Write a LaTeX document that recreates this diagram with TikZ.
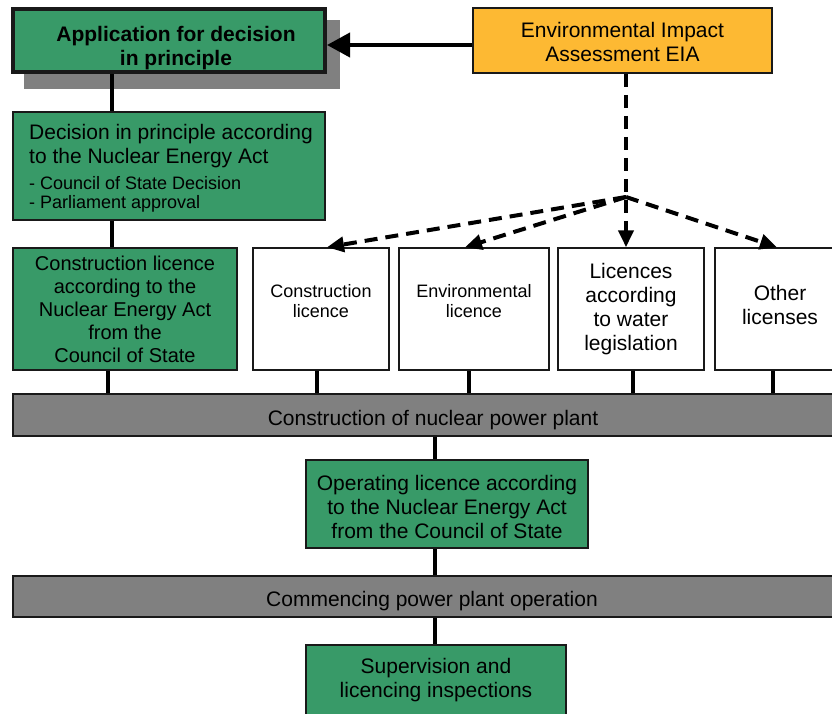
\documentclass[tikz,border=0pt]{standalone}
\usepackage{fontspec}
\setmainfont{Liberation Sans}
\usetikzlibrary{arrows.meta}
\definecolor{boxgreen}{HTML}{389A68}
\definecolor{eiaorange}{HTML}{FDB933}
\definecolor{bargray}{HTML}{808080}
\newcommand{\bigtxt}{\fontsize{21}{24}\selectfont}
\newcommand{\midtxt}{\fontsize{20}{23}\selectfont}
\newcommand{\smalltxt}{\fontsize{18}{20}\selectfont}

\begin{document}
\begin{tikzpicture}[x=1pt,y=-1pt,
	greenbox/.style={draw=black!90,line width=1.5pt,fill=boxgreen,align=center,inner sep=0pt,font=\bigtxt},
	whitebox/.style={draw=black!90,line width=1.5pt,fill=white,align=center,inner sep=0pt,minimum height=122pt},
	barbox/.style={draw=black!90,line width=1.5pt,fill=bargray,inner sep=0pt,font=\bigtxt,text height=25pt},
	conn/.style={line width=4pt},
	dashconn/.style={line width=4pt,dash pattern=on 13pt off 8pt,-{Triangle[length=17pt,width=15pt]}}]
		\clip (0,0) rectangle (832,713);
		
		% Shadow
		\fill[bargray] (24,20) rectangle (340,89);
		
		% Top boxes
		\node[greenbox,line width=4pt,minimum width=312pt,minimum height=63pt,font=\bigtxt\bfseries] (app) at (169,40.5) {\rule{0pt}{31pt}\hspace*{14pt}Application for decision\\\hspace*{14pt}in principle};
		\node[draw=black!90,line width=1.5pt,fill=eiaorange,minimum width=299pt,minimum height=65pt,align=center,inner sep=0pt,font=\bigtxt] (eia) at (622.5,40.5) {\rule{0pt}{19pt}Environmental Impact\\Assessment EIA};
		\node[greenbox,minimum width=312pt,minimum height=108pt,align=left] (dec) at (169,166) {\rule{0pt}{19.5pt}\hspace*{4pt}Decision in principle according\\\hspace*{4pt}to the Nuclear Energy Act\\[2pt]{\smalltxt\hspace*{4pt}- Council of State Decision}\\[-5pt]{\smalltxt\hspace*{4pt}- Parliament approval}};
		
		% Licence row
		\node[greenbox,minimum width=224pt,minimum height=122pt,font=\midtxt] (cnea) at (125,309) {Construction licence\\according to the\\Nuclear Energy Act\\from the\\Council of State};
		\node[whitebox,font=\smalltxt,text depth=16pt,minimum width=136pt] (cl) at (321,309) {Construction\\licence};
		\node[whitebox,font=\smalltxt,text depth=16pt,minimum width=150pt] (el) at (474,309) {Environmental\\licence};
		\node[whitebox,font=\bigtxt,minimum width=146pt] (wl) at (631,309) {Licences\\according\\to water\\legislation};
		\node[whitebox,font=\bigtxt,text depth=8pt,minimum width=130pt] (ol) at (780,309) {Other\\licenses};
		
		% Lower part
		\node[barbox,minimum width=840pt,minimum height=42pt] (bar1) at (433,415) {Construction of nuclear power plant};
		\node[greenbox,minimum width=282pt,minimum height=88pt] (op) at (447,504) {\rule{0pt}{21.5pt}Operating licence according\\to the Nuclear Energy Act\\from the Council of State};
		\node[barbox,minimum width=838pt,minimum height=41pt] (bar2) at (432,596.5) {Commencing power plant operation};
		\node[greenbox,minimum width=260pt,minimum height=70pt] (sup) at (436,680) {Supervision and\\licencing inspections};
		
		% Connectors
		\draw[conn,-{Triangle[length=23pt,width=24pt]}] ([yshift=-4.5pt]eia.west) -- ([yshift=-4.5pt]app.east);
		\draw[conn] ([xshift=-57pt]app.south) -- ([xshift=-57pt]dec.north);
		\draw[conn] ([xshift=-57pt]dec.south) -- ([xshift=-13pt]cnea.north);
		\foreach \n/\dx in {cnea/-17pt,cl/-4pt,el/-5pt,wl/2pt,ol/-7pt}
			\draw[conn] ([xshift=\dx]\n.south) -- ([xshift=\dx]\n.south |- bar1.north);
		\draw[conn] ([xshift=-12pt]op.north |- bar1.south) -- ([xshift=-12pt]op.north);
		\draw[conn] ([xshift=-12pt]op.south) -- ([xshift=-12pt]op.south |- bar2.north);
		\draw[conn] ([xshift=-1pt]sup.north |- bar2.south) -- ([xshift=-1pt]sup.north);
		
		% EIA dashed arrows
		\coordinate (junc) at (626,197);
		\draw[dashconn] (junc |- eia.south) -- (junc |- wl.north);
		\draw[dashconn] (junc) -- ([xshift=6pt]cl.north);
		\draw[dashconn] (junc) -- ([xshift=-9pt]el.north);
		\draw[dashconn] (junc) -- ([xshift=-3pt]ol.north);
		
\end{tikzpicture}
\end{document}
